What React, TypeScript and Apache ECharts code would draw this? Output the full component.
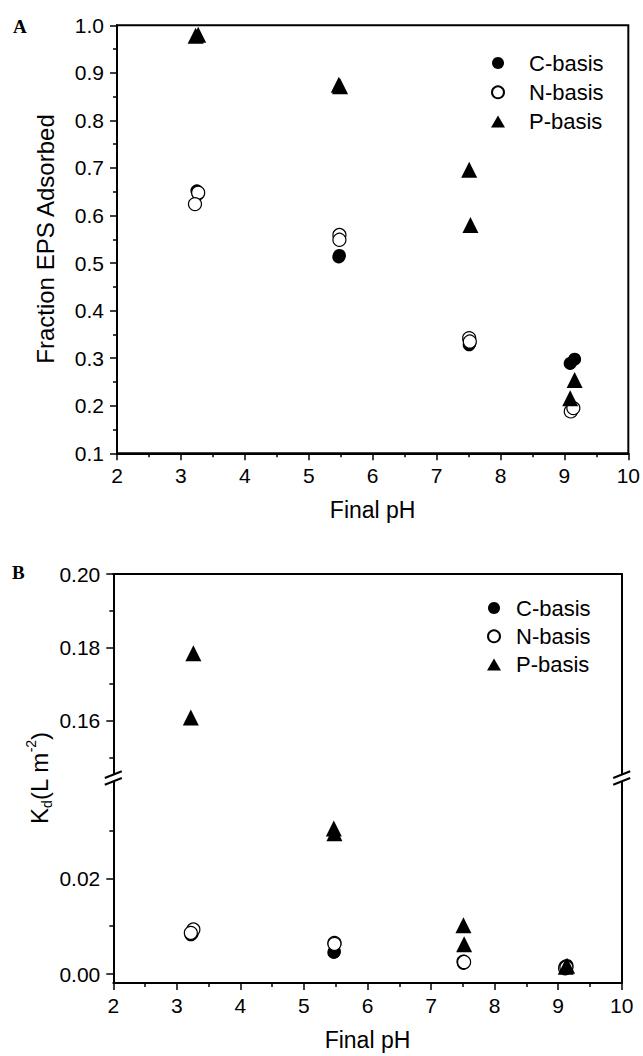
import React, { useEffect, useRef } from "react";
import * as echarts from "echarts";

// ---------- Panel A : Fraction EPS adsorbed ----------
const phA_C = [3.25, 3.27, 5.47, 5.48, 7.51, 7.52, 9.09, 9.16];
const fracC = [0.652, 0.645, 0.513, 0.516, 0.328, 0.331, 0.289, 0.298];
const phA_N = [3.27, 3.22, 5.48, 5.48, 7.51, 7.52, 9.1, 9.14];
const fracN = [0.648, 0.624, 0.559, 0.549, 0.342, 0.335, 0.188, 0.195];
const phA_P = [3.23, 3.27, 5.47, 5.49, 7.51, 7.53, 9.16, 9.09];
const fracP = [0.978, 0.98, 0.875, 0.872, 0.696, 0.58, 0.254, 0.216];

// ---------- Panel B : Kd ----------
const phB_C = [3.22, 3.24, 5.47, 5.48, 7.51, 7.52, 9.11, 9.14];
const kdC = [0.0082, 0.0084, 0.0045, 0.0047, 0.0022, 0.0024, 0.0016, 0.0018];
const phB_N = [3.26, 3.22, 5.48, 5.48, 7.51, 7.52, 9.11, 9.13];
const kdN = [0.0093, 0.0086, 0.0065, 0.0063, 0.0026, 0.0025, 0.0012, 0.0014];
const phB_Phigh = [3.26, 3.22];
const kdPhigh = [0.1784, 0.1609];
const phB_Plow = [5.47, 5.48, 7.51, 7.52, 9.12, 9.14];
const kdPlow = [0.0304, 0.0294, 0.0102, 0.0062, 0.0015, 0.0017];

const seriesNames = ["C-basis", "N-basis", "P-basis"];
const xTickA = [2, 10];
const yUpperLabels = [0.16, 0.18, 0.2];
const yUpperMinor = [0.15, 0.17, 0.19];
const yLowerLabels = [0, 0.02];
const yLowerMinor = [0.01, 0.03];

const FONT = "Liberation Sans, Arial, Helvetica, sans-serif";
const BLACK = "#000";

const pair = (xs: number[], ys: number[]) => xs.map((x, i) => [x, ys[i]]);

const lineStyle = { color: BLACK, width: 2 };

function frameAxisX(gridIndex: number, position: string) {
  return {
    gridIndex,
    type: "value",
    position,
    min: xTickA[0],
    max: xTickA[1],
    axisLine: { show: true, onZero: false, lineStyle },
    axisTick: { show: false },
    axisLabel: { show: false },
    splitLine: { show: false },
  };
}

function frameAxisY(gridIndex: number, position: string, min: number, max: number) {
  return {
    gridIndex,
    type: "value",
    position,
    min,
    max,
    axisLine: { show: true, onZero: false, lineStyle },
    axisTick: { show: false },
    axisLabel: { show: false },
    splitLine: { show: false },
  };
}

function mainX(gridIndex: number) {
  return {
    gridIndex,
    type: "value",
    position: "bottom",
    min: xTickA[0],
    max: xTickA[1],
    interval: 1,
    axisLine: { show: true, onZero: false, lineStyle },
    axisTick: { show: true, length: 7, lineStyle: { color: BLACK, width: 1.5 } },
    minorTick: { show: true, splitNumber: 2, length: 4, lineStyle: { color: BLACK, width: 1.5 } },
    axisLabel: { color: BLACK, fontSize: 21, fontFamily: FONT, margin: 12 },
    splitLine: { show: false },
    minorSplitLine: { show: false },
    name: "Final pH",
    nameLocation: "middle",
    nameGap: 45,
    nameTextStyle: { color: BLACK, fontSize: 23, fontFamily: FONT },
  };
}

const UPPER_MIN = 0.14438;
const UPPER_MAX = 0.2;
const LOWER_MIN = -0.00188;
const LOWER_MAX = 0.04096;

function customY(
  gridIndex: number,
  min: number,
  max: number,
  values: number[],
  labels: boolean,
  len: number
) {
  return {
    gridIndex,
    type: "value",
    position: "left",
    min,
    max,
    axisLine: { show: labels, onZero: false, lineStyle },
    axisTick: {
      show: true,
      length: len,
      customValues: values,
      lineStyle: { color: BLACK, width: 1.5 },
    },
    axisLabel: {
      show: labels,
      customValues: values,
      color: BLACK,
      fontSize: 21,
      fontFamily: FONT,
      margin: 13,
      formatter: (v: number) => v.toFixed(2),
    },
    splitLine: { show: false },
  };
}

function breakMarks(x: number, yc: number) {
  const s = { stroke: BLACK, lineWidth: 2 };
  return [
    { type: "rect", shape: { x: x - 3, y: yc - 3.3, width: 6, height: 6.6 }, style: { fill: "#fff" }, z: 100 },
    { type: "line", shape: { x1: x - 8.5, y1: yc, x2: x + 8.5, y2: yc - 6.7 }, style: s, z: 101 },
    { type: "line", shape: { x1: x - 8.5, y1: yc + 6.7, x2: x + 8.5, y2: yc }, style: s, z: 101 },
  ];
}

const filled = { color: BLACK, opacity: 1 };
const open = { color: "#fff", borderColor: BLACK, borderWidth: 1.2, opacity: 1 };

export default function App() {
  const ref = useRef<HTMLDivElement>(null);
  useEffect(() => {
    if (!ref.current) return;
    const chart = echarts.init(ref.current, undefined, { renderer: "svg" });
    const gridBLeft = 113.3;
    const gridBRight = 643 - 621.7;
    const yc = 778;
    const option: any = {
      animation: false,
      backgroundColor: "#fff",
      textStyle: { fontFamily: FONT },
      grid: [
        { left: 117, top: 25.3, width: 513, height: 428, show: true, borderColor: BLACK, borderWidth: 2 },
        { left: gridBLeft, right: gridBRight, top: 574, height: yc - 574 },
        { left: gridBLeft, right: gridBRight, top: yc, height: 983 - yc },
      ],
      legend: [
        {
          orient: "vertical",
          left: 486,
          top: 47,
          itemWidth: 14,
          itemHeight: 12,
          itemGap: 7.3,
          selectedMode: false,
          data: seriesNames,
          textStyle: { color: BLACK, fontSize: 22, fontFamily: FONT, padding: [0, 0, 0, 19] },
        },
        {
          orient: "vertical",
          left: 482,
          top: 592,
          itemWidth: 14,
          itemHeight: 12,
          itemGap: 6.3,
          selectedMode: false,
          data: seriesNames,
          textStyle: { color: BLACK, fontSize: 22, fontFamily: FONT, padding: [0, 0, 0, 10] },
        },
      ],
      xAxis: [mainX(0), frameAxisX(1, "top"), mainX(2)],
      yAxis: [
        {
          gridIndex: 0,
          type: "value",
          position: "left",
          min: 0.1,
          max: 1.0,
          interval: 0.1,
          axisLine: { show: true, onZero: false, lineStyle },
          axisTick: { show: true, length: 7, lineStyle: { color: BLACK, width: 1.5 } },
          minorTick: { show: true, splitNumber: 2, length: 4, lineStyle: { color: BLACK, width: 1.5 } },
          axisLabel: { color: BLACK, fontSize: 21, fontFamily: FONT, margin: 13, formatter: (v: number) => v.toFixed(1) },
          splitLine: { show: false },
          minorSplitLine: { show: false },
        },
        customY(1, UPPER_MIN, UPPER_MAX, yUpperLabels, true, 7),
        customY(1, UPPER_MIN, UPPER_MAX, yUpperMinor, false, 4),
        frameAxisY(1, "right", UPPER_MIN, UPPER_MAX),
        customY(2, LOWER_MIN, LOWER_MAX, yLowerLabels, true, 7),
        customY(2, LOWER_MIN, LOWER_MAX, yLowerMinor, false, 4),
        frameAxisY(2, "right", LOWER_MIN, LOWER_MAX),
      ],
      series: [
        { name: "C-basis", type: "scatter", xAxisIndex: 0, yAxisIndex: 0, symbol: "circle", symbolSize: 13, itemStyle: filled, data: pair(phA_C, fracC) },
        { name: "N-basis", type: "scatter", xAxisIndex: 0, yAxisIndex: 0, symbol: "circle", symbolSize: 13, itemStyle: open, data: pair(phA_N, fracN) },
        { name: "P-basis", type: "scatter", xAxisIndex: 0, yAxisIndex: 0, symbol: "triangle", symbolSize: 16, itemStyle: filled, data: pair(phA_P, fracP) },
        { name: "C-basis", type: "scatter", xAxisIndex: 2, yAxisIndex: 4, symbol: "circle", symbolSize: 13, itemStyle: filled, data: pair(phB_C, kdC) },
        { name: "N-basis", type: "scatter", xAxisIndex: 2, yAxisIndex: 4, symbol: "circle", symbolSize: 13, itemStyle: open, data: pair(phB_N, kdN) },
        { name: "P-basis", type: "scatter", xAxisIndex: 2, yAxisIndex: 4, symbol: "triangle", symbolSize: 16, itemStyle: filled, data: pair(phB_Plow, kdPlow) },
        { name: "P-basis", type: "scatter", xAxisIndex: 1, yAxisIndex: 1, symbol: "triangle", symbolSize: 16, itemStyle: filled, data: pair(phB_Phigh, kdPhigh) },
      ],
      graphic: [
        { type: "text", left: 13, top: 17, style: { text: "A", font: "bold 19px 'Liberation Serif', 'Times New Roman', serif", fill: BLACK } },
        { type: "text", left: 12, top: 563, style: { text: "B", font: "bold 19px 'Liberation Serif', 'Times New Roman', serif", fill: BLACK } },
        {
          type: "text",
          x: 45,
          y: 239,
          rotation: Math.PI / 2,
          style: { text: "Fraction EPS Adsorbed", fontSize: 24, fontFamily: FONT, fill: BLACK, align: "center", verticalAlign: "middle" },
        },
        {
          type: "text",
          x: 39,
          y: 778,
          rotation: Math.PI / 2,
          style: {
            text: "{k|K}{d|d}{k|(L m}{s|-2}{k|)}",
            align: "center",
            verticalAlign: "middle",
            fill: BLACK,
            rich: {
              k: { fontSize: 24, fontFamily: FONT, fill: BLACK, lineHeight: 30 },
              d: { fontSize: 14, fontFamily: FONT, fill: BLACK, verticalAlign: "bottom", lineHeight: 14 },
              s: { fontSize: 14, fontFamily: FONT, fill: BLACK, verticalAlign: "top", lineHeight: 14 },
            },
          },
        },
        ...breakMarks(gridBLeft, yc),
        ...breakMarks(621.7, yc),
      ],
    };
    chart.setOption(option);
    return () => chart.dispose();
  }, []);
  return <div ref={ref} style={{ position: "absolute", left: 0, top: 0, width: 643, height: 1056 }} />;
}
